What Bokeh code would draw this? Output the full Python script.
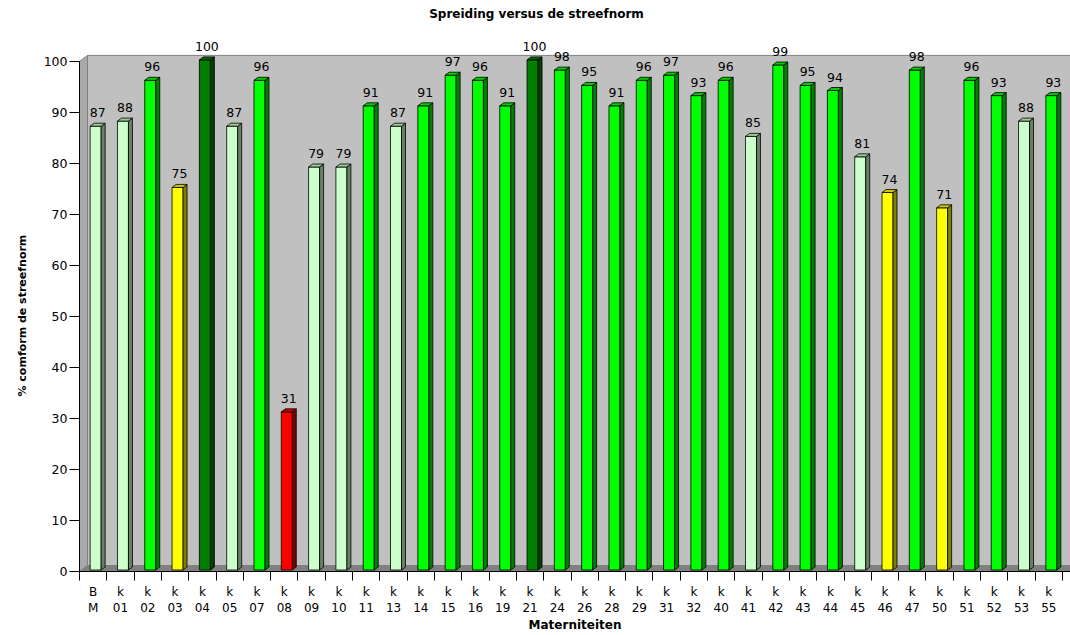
from bokeh.plotting import figure
from bokeh.models import Range1d, FixedTicker, Title
from bokeh.embed import file_html
from bokeh.resources import INLINE
from bokeh.core.properties import value

# ---------------- data ----------------
codes = ["B\nM", "k\n01", "k\n02", "k\n03", "k\n04", "k\n05", "k\n07", "k\n08", "k\n09",
         "k\n10", "k\n11", "k\n13", "k\n14", "k\n15", "k\n16", "k\n19", "k\n21", "k\n24",
         "k\n26", "k\n28", "k\n29", "k\n31", "k\n32", "k\n40", "k\n41", "k\n42", "k\n43",
         "k\n44", "k\n45", "k\n46", "k\n47", "k\n50", "k\n51", "k\n52", "k\n53", "k\n55"]
pct = [87, 88, 96, 75, 100, 87, 96, 31, 79, 79, 91, 87, 91, 97, 96, 91, 100, 98,
       95, 91, 96, 97, 93, 96, 85, 99, 95, 94, 81, 74, 98, 71, 96, 93, 88, 93]
y_ticks = [0, 10, 20, 30, 40, 50, 60, 70, 80, 90, 100]
title_text = "Spreiding versus de streefnorm"
x_title = "Materniteiten"
y_title = "% comform de streefnorm"

# ---------------- layout (pixels) ----------------
W, H = 1070, 635
FL, FB = 79, 63            # left / bottom borders
FW, FH = W - FL, H - FB    # frame size
DX, DY = 8, 6              # 3D wall depth
N = len(codes)
CW = (FW - DX) / N         # px per category
PY = 5.11                  # px per percent
ux, uy = 1.0 / CW, 1.0 / PY
x_end = FW * ux
y_end = FH * uy

FONT = "DejaVu Sans"
NUM_SIZE = "12.5px"

p = figure(width=W, height=H, output_backend="svg", toolbar_location=None,
           x_range=Range1d(0, x_end), y_range=Range1d(0, y_end),
           min_border_left=FL, min_border_right=0, min_border_top=0,
           min_border_bottom=FB)
p.outline_line_color = None
p.xgrid.visible = False
p.ygrid.visible = False
p.background_fill_color = "white"
p.border_fill_color = "white"

# ---------------- 3D walls ----------------
top = 100
p.patch([DX * ux, x_end, x_end, DX * ux], [DY * uy, DY * uy, top + DY * uy, top + DY * uy],
        fill_color="#C0C0C0", line_color="#808080", line_width=1)
p.patch([0, DX * ux, DX * ux, 0], [0, DY * uy, top + DY * uy, top],
        fill_color="#A8A8A8", line_color="#808080", line_width=1)
p.patch([0, x_end, x_end, DX * ux], [0, 0, DY * uy, DY * uy],
        fill_color="#808080", line_color="#808080", line_width=1)

# ---------------- bars ----------------
def colour(v):
    if v >= 100:
        return ("#008000", "#004000", "#006600")
    if v >= 90:
        return ("#00FF00", "#008000", "#00CC00")
    if v >= 76:
        return ("#CCFFCC", "#668066", "#99CC99")
    if v >= 50:
        return ("#FFFF00", "#808000", "#CCCC00")
    return ("#FF0000", "#800000", "#CC0000")

BW, SD, TR = 11, 4, 3
shift_x, base = 2.5, 1.5
fl, fr, fb, ft = [], [], [], []
sx, sy, tx, ty = [], [], [], []
fc, sc, tc = [], [], []
lx, ly = [], []
for i, v in enumerate(pct):
    x0 = i + ((CW - BW) / 2 + shift_x) * ux
    x1 = x0 + BW * ux
    y0 = base * uy
    y1 = v + base * uy
    fl.append(x0); fr.append(x1); fb.append(y0); ft.append(y1)
    sx.append([x1, x1 + SD * ux, x1 + SD * ux, x1])
    sy.append([y0, y0 + TR * uy, y1 + TR * uy, y1])
    tx.append([x0, x1, x1 + SD * ux, x0 + SD * ux])
    ty.append([y1, y1, y1 + TR * uy, y1 + TR * uy])
    f, s, t = colour(v)
    fc.append(f); sc.append(s); tc.append(t)
    lx.append((x0 + x1) / 2 + SD / 2 * ux)
    ly.append(v + 15 * uy)

p.quad(left=fl, right=fr, bottom=fb, top=ft, fill_color=fc, line_color="black", line_width=0.8)
p.patches(sx, sy, fill_color=sc, line_color="black", line_width=0.8)
p.patches(tx, ty, fill_color=tc, line_color="black", line_width=0.8)

p.text(x=lx, y=ly, text=[str(v) for v in pct], text_font=value(FONT),
       text_font_size=NUM_SIZE, text_align="center", text_baseline="middle",
       text_color="black")

# title
p.text(x=[(536 - FL) * ux], y=[y_end - 14 * uy], text=[title_text], text_font=value(FONT),
       text_font_size="12px", text_font_style="bold", text_align="center",
       text_baseline="middle", text_color="black")

# y axis title as a side title, positioned from the bottom of the frame
p.add_layout(Title(text=y_title, align="left", offset=175, standoff=24,
                   text_font=FONT, text_font_size="11px", text_font_style="bold",
                   text_color="black"), "left")

# ---------------- axes ----------------
xa = p.xaxis[0]
xa.ticker = FixedTicker(ticks=[i + 0.5 for i in range(N)], minor_ticks=list(range(N + 1)))
xa.major_label_overrides = {i + 0.5: c for i, c in enumerate(codes)}
xa.major_tick_out = 0
xa.major_tick_in = 0
xa.minor_tick_out = 9
xa.minor_tick_in = 0
xa.minor_tick_line_color = "black"
xa.axis_line_color = "black"
xa.major_label_text_font = FONT
xa.major_label_text_font_size = "12px"
xa.major_label_text_color = "black"
xa.major_label_standoff = 4
xa.axis_label = x_title
xa.axis_label_text_font = FONT
xa.axis_label_text_font_size = "12px"
xa.axis_label_text_font_style = "bold"
xa.axis_label_text_color = "black"
xa.axis_label_standoff = 0

ya = p.yaxis[0]
ya.ticker = FixedTicker(ticks=y_ticks)
ya.bounds = (0, 100)
ya.major_tick_out = 10
ya.major_tick_in = 0
ya.minor_tick_out = 0
ya.minor_tick_in = 0
ya.axis_line_color = "black"
ya.major_tick_line_color = "black"
ya.major_label_text_font = FONT
ya.major_label_text_font_size = NUM_SIZE
ya.major_label_text_color = "black"
ya.major_label_standoff = 2

open("out.html", "w").write(file_html(p, INLINE))
